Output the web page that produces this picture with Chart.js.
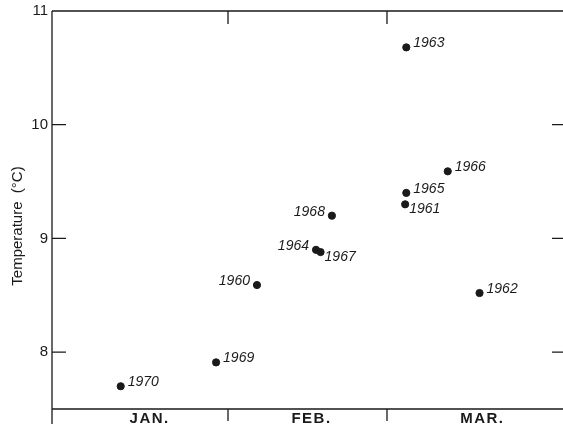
<!DOCTYPE html>
<html>
<head>
<meta charset="utf-8">
<script src="https://cdn.jsdelivr.net/npm/chart.js@4/dist/chart.umd.min.js"></script>
<style>
	html, body { margin: 0; padding: 0; background: #fff; }
	#wrap { width: 563px; height: 430px; }
</style>
</head>
<body>
<div id="wrap"><canvas id="myChart" width="563" height="430"></canvas></div>
<script>
// data: day of year (0 = start of Jan 1) and temperature
var years = ['1970', '1969', '1960', '1964', '1967', '1968', '1963', '1966', '1965', '1961', '1962'];
var days  = [12.1, 28.9, 36.1, 46.5, 47.3, 49.3, 62.4, 69.7, 62.4, 62.2, 75.3];
var temps = [7.70, 7.91, 8.59, 8.90, 8.88, 9.20, 10.68, 9.59, 9.40, 9.30, 8.52];

var monthNames = ['JAN.', 'FEB.', 'MAR.'];
var monthEdges = [0, 31, 59, 90];
var yTicks = [8, 9, 10, 11];

// where each year label sits next to its dot
var labelSide = {
	'1970': 'ne', '1969': 'ne', '1963': 'ne', '1966': 'ne', '1965': 'ne', '1962': 'ne',
	'1960': 'w', '1964': 'w', '1968': 'w',
	'1967': 'se', '1961': 'se'
};
// month label centres (a bit right of the middle, like the drawing)
var monthLabelAt = [17.2, 45.7, 75.8];

var ink = '#1a1a1a';

var points = [];
for (var i = 0; i < days.length; i++) {
	points.push({x: days[i], y: temps[i]});
}

/*frame, inward ticks, axis title, year labels*/
var framePlugin = {
	id: 'frame',
	afterDraw: function (chart) {
		var ctx = chart.ctx;
		var a = chart.chartArea;
		var xs = chart.scales.x, ys = chart.scales.y;
		ctx.save();
		ctx.strokeStyle = ink;
		ctx.lineWidth = 1.3;
		ctx.beginPath();
		// left axis, runs a little below the bottom
		ctx.moveTo(a.left, a.top);
		ctx.lineTo(a.left, a.bottom + 15);
		// bottom + top lines
		ctx.moveTo(a.left, a.bottom);
		ctx.lineTo(a.right, a.bottom);
		ctx.moveTo(a.left, a.top);
		ctx.lineTo(a.right, a.top);
		// y ticks pointing in, both sides
		yTicks.forEach(function (v) {
			if (v >= ys.max) return;
			var py = ys.getPixelForValue(v);
			ctx.moveTo(a.left, py);
			ctx.lineTo(a.left + 14, py);
			ctx.moveTo(a.right - 11, py);
			ctx.lineTo(a.right, py);
		});
		// month boundary ticks
		monthEdges.slice(1, 3).forEach(function (d) {
			var px = xs.getPixelForValue(d);
			ctx.moveTo(px, a.top);
			ctx.lineTo(px, a.top + 13);
			ctx.moveTo(px, a.bottom);
			ctx.lineTo(px, a.bottom + 12);
		});
		ctx.stroke();

		// y title
		ctx.fillStyle = ink;
		ctx.font = '15px "Liberation Sans", Arial, sans-serif';
		ctx.textAlign = 'center';
		ctx.textBaseline = 'middle';
		ctx.translate(18, (a.top + a.bottom) / 2 + 16);
		ctx.rotate(-Math.PI / 2);
		ctx.fillText('Temperature  (°C)', 0, 0);
		ctx.restore();

		// year labels
		ctx.save();
		ctx.fillStyle = ink;
		ctx.font = 'italic 14px "Liberation Sans", Arial, sans-serif';
		ctx.textBaseline = 'middle';
		var meta = chart.getDatasetMeta(0);
		meta.data.forEach(function (el, k) {
			var side = labelSide[years[k]];
			if (side === 'w') {
				ctx.textAlign = 'right';
				ctx.fillText(years[k], el.x - 7, el.y - 4);
			} else if (side === 'se') {
				ctx.textAlign = 'left';
				ctx.fillText(years[k], el.x + 4, el.y + 5);
			} else {
				ctx.textAlign = 'left';
				ctx.fillText(years[k], el.x + 7, el.y - 4);
			}
		});
		ctx.restore();
	}
};

// spaced out month letters
var spacedMonths = {
	id: 'spacedMonths',
	afterUpdate: function (chart) {
		var xs = chart.scales.x;
		if (xs._spaced) return;
		var orig = xs.drawLabels;
		xs.drawLabels = function (ca) {
			chart.ctx.save();
			chart.ctx.letterSpacing = '1.5px';
			orig.call(this, ca);
			chart.ctx.restore();
		};
		xs._spaced = true;
	}
};

var ctx = document.getElementById('myChart').getContext('2d');
var chart = new Chart(ctx, {
	type: 'scatter',
	data: {
		datasets: [{
			data: points,
			backgroundColor: ink,
			borderColor: ink,
			pointRadius: 3.6,
			pointHoverRadius: 3.6
		}]
	},
	options: {
		responsive: false,
		animation: false,
		events: [],
		layout: { autoPadding: false, padding: { top: 11, right: 0, left: 0, bottom: 0 } },
		plugins: {
			legend: { display: false },
			tooltip: { enabled: false }
		},
		scales: {
			x: {
				type: 'linear',
				min: monthEdges[0],
				max: monthEdges[3],
				grid: { display: false, drawTicks: false },
				border: { display: false },
				afterBuildTicks: function (s) {
					s.ticks = monthLabelAt.map(function (v) { return {value: v}; });
				},
				afterFit: function (s) {
					s.height = 21;
					s.paddingLeft = 0;
					s.paddingRight = 0;
				},
				ticks: {
					autoSkip: false,
					maxRotation: 0,
					padding: 1,
					color: ink,
					font: { family: '"Liberation Sans", Arial, sans-serif', size: 15, weight: 'bold' },
					callback: function (v, i) { return monthNames[i]; }
				}
			},
			y: {
				min: 7.5,
				max: 11,
				grid: { display: false, drawTicks: false },
				border: { display: false },
				afterBuildTicks: function (s) {
					s.ticks = yTicks.map(function (v) { return {value: v}; });
				},
				afterFit: function (s) {
					s.width = 52;
					s.paddingTop = 0;
					s.paddingBottom = 0;
				},
				ticks: {
					padding: 4,
					color: ink,
					font: { family: '"Liberation Sans", Arial, sans-serif', size: 15 }
				}
			}
		}
	},
	plugins: [spacedMonths, framePlugin]
});
</script>
</body>
</html>
